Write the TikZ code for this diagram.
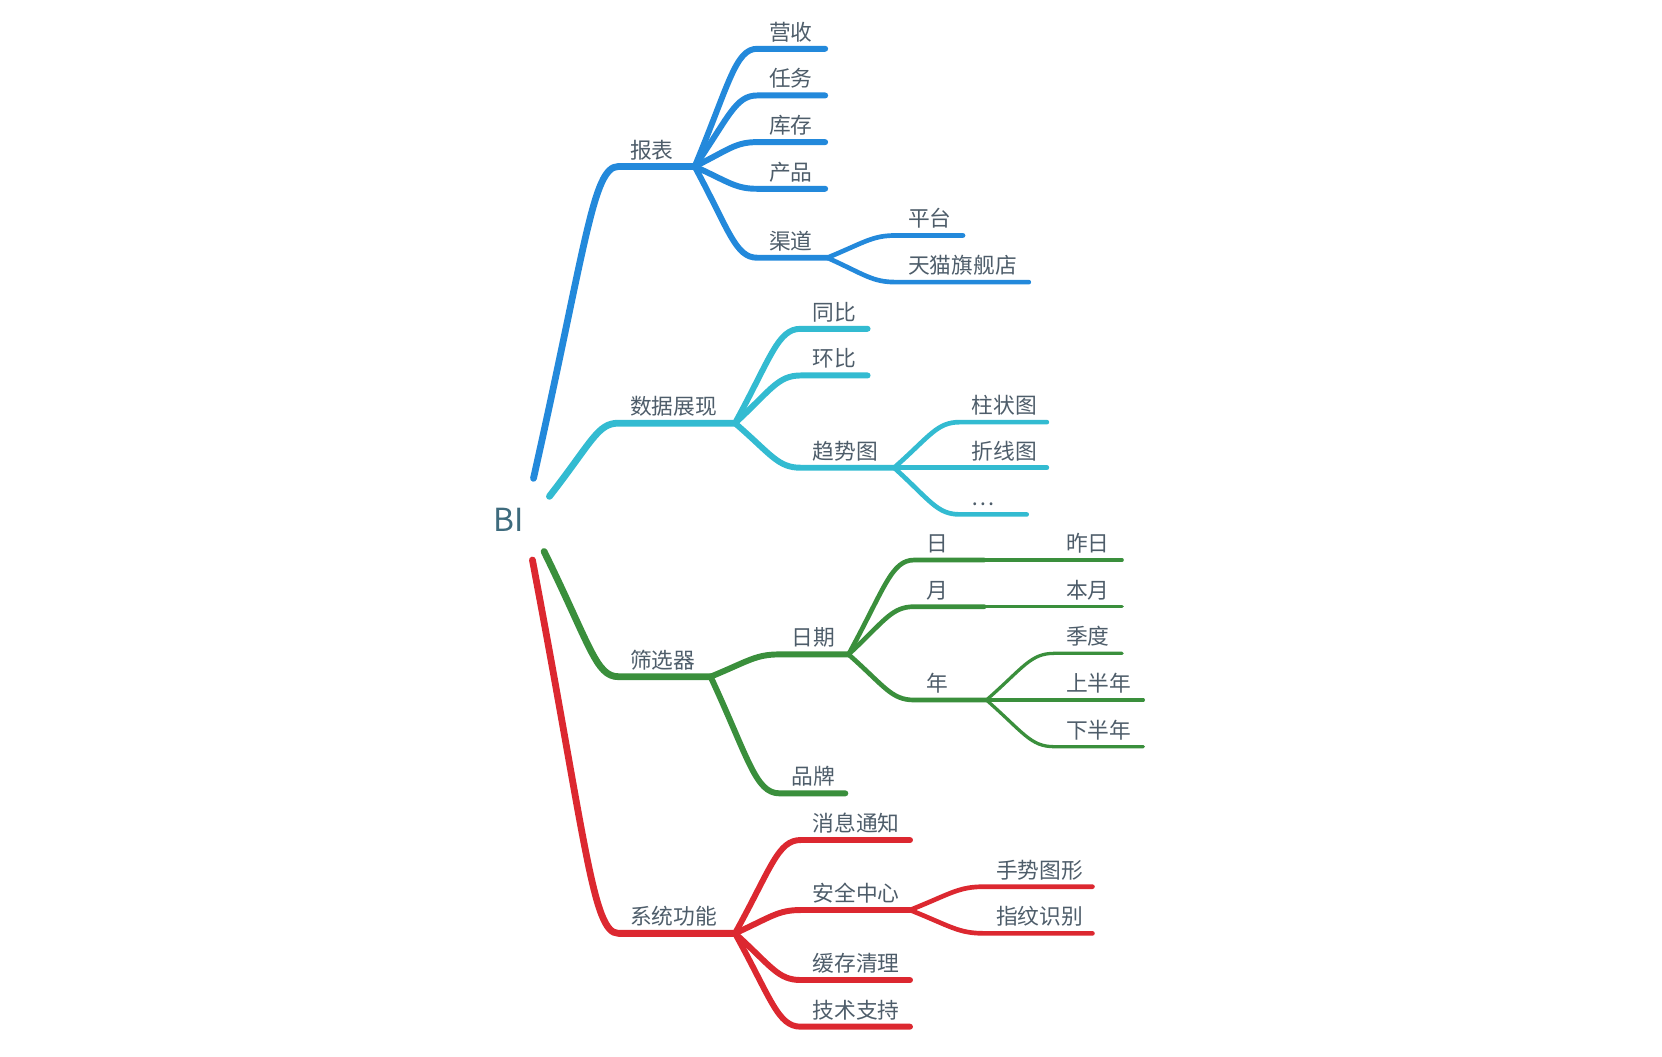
\documentclass[tikz,border=0pt]{standalone}
\usepackage{fontspec}
\setmainfont{Noto Sans CJK SC}
\usetikzlibrary{calc}
\definecolor{cblue}{HTML}{2389DB}
\definecolor{ccyan}{HTML}{33BBD1}
\definecolor{cgreen}{HTML}{3A8F3C}
\definecolor{cred}{HTML}{DC2830}
\definecolor{ctext}{HTML}{4E5D6A}
\definecolor{croot}{HTML}{3E6B7D}
\newcommand\mmtopic[5]{%
  \coordinate (#1L) at (#2,#4);
  \coordinate (#1R) at (#3,#4);
  \node[lab] (#1) at (#2+11,#4-8) {#5};}
\begin{document}
\begin{tikzpicture}[x=1pt,y=-1pt,line cap=round,line join=round,
  lab/.style={inner sep=0pt,anchor=base west,text=ctext,font=\fontsize{20.5}{24}\selectfont},
  w1/.style={line width=6.4pt},
  w2/.style={line width=5.6pt},
  w3/.style={line width=4.4pt},
  w4/.style={line width=3.1pt},
  cb/.style={draw=cblue},
  cc/.style={draw=ccyan},
  cg/.style={draw=cgreen},
  cr/.style={draw=cred},
  br/.style={to path={let \p1=(\tikztostart), \p2=(\tikztotarget) in
     .. controls ({\x1+0.55*(\x2-\x1)},{\y1+0.7*(\y2-\y1)}) and ({\x2-0.35*(\x2-\x1)},{\y2}) .. (\tikztotarget)}},
  brm/.style={to path={let \p1=(\tikztostart), \p2=(\tikztotarget) in
     .. controls ({\x1+0.62*(\x2-\x1)},{\y1+0.75*(\y2-\y1)}) and ({\x2-0.3*(\x2-\x1)},{\y2}) .. (\tikztotarget)}}]
\useasboundingbox (0,0) rectangle (1567,996);

% root
\node[inner sep=0pt,text=croot,font=\fontsize{30}{34}\selectfont] (bi) at (480,490) {BI};
\coordinate (sB) at (503,451);
\coordinate (sC) at (518,468);
\coordinate (sG) at (513,520);
\coordinate (sR) at (502,528);

% topics
\mmtopic{bb}{583}{655}{157}{报表}
\mmtopic{ys}{714}{778}{46}{营收}
\mmtopic{rw}{714}{778}{90}{任务}
\mmtopic{kc}{714}{778}{134}{库存}
\mmtopic{cp}{714}{778}{178}{产品}
\mmtopic{qd}{714}{780}{243}{渠道}
\mmtopic{pt}{845}{908}{222}{平台}
\mmtopic{tm}{845}{970}{266}{天猫旗舰店}

\mmtopic{sj}{583}{693}{399}{数据展现}
\mmtopic{tb}{755}{818}{310}{同比}
\mmtopic{hb}{755}{818}{354}{环比}
\mmtopic{qs}{755}{843}{441}{趋势图}
\mmtopic{zz}{905}{987}{398}{柱状图}
\mmtopic{zx}{905}{987}{441}{折线图}
\mmtopic{el}{905}{968}{485}{…}

\mmtopic{sx}{583}{670}{638}{筛选器}
\mmtopic{rq}{735}{800}{617}{日期}
\mmtopic{pp}{735}{797}{748}{品牌}
\mmtopic{ri}{862}{928}{528}{日}
\mmtopic{yu}{862}{928}{572}{月}
\mmtopic{ni}{862}{930}{660}{年}
\mmtopic{zr}{994}{1058}{528}{昨日}
\mmtopic{by}{994}{1058}{572}{本月}
\mmtopic{jd}{994}{1058}{616}{季度}
\mmtopic{sb}{994}{1078}{660}{上半年}
\mmtopic{xb}{994}{1078}{704}{下半年}

\mmtopic{xt}{583}{693}{880}{系统功能}
\mmtopic{xx}{755}{858}{792}{消息通知}
\mmtopic{aq}{755}{858}{858}{安全中心}
\mmtopic{hc}{755}{858}{924}{缓存清理}
\mmtopic{js}{755}{858}{968}{技术支持}
\mmtopic{ss}{928}{1030}{836}{手势图形}
\mmtopic{zw}{928}{1030}{880}{指纹识别}

% blue
\draw[cb,w1] (sB) to[brm] (bbL) -- (bbR);
\foreach \t in {ys,rw,kc,cp,qd} \draw[cb,w2] (bbR) to[br] (\t L) -- (\t R);
\foreach \t in {pt,tm} \draw[cb,w3] (qdR) to[br] (\t L) -- (\t R);
% cyan
\draw[cc,w1] (sC) to[brm] (sjL) -- (sjR);
\foreach \t in {tb,hb,qs} \draw[cc,w2] (sjR) to[br] (\t L) -- (\t R);
\foreach \t in {zz,zx,el} \draw[cc,w3] (qsR) to[br] (\t L) -- (\t R);
% green
\draw[cg,w1] (sG) to[brm] (sxL) -- (sxR);
\foreach \t in {rq,pp} \draw[cg,w2] (sxR) to[br] (\t L) -- (\t R);
\foreach \t in {ri,yu,ni} \draw[cg,w3] (rqR) to[br] (\t L) -- (\t R);
\draw[cg,w4] (riR) -- (zrL) -- (zrR);
\draw[cg,w4] (yuR) -- (byL) -- (byR);
\foreach \t in {jd,sb,xb} \draw[cg,w4] (niR) to[br] (\t L) -- (\t R);
% red
\draw[cr,w1] (sR) to[brm] (xtL) -- (xtR);
\foreach \t in {xx,aq,hc,js} \draw[cr,w2] (xtR) to[br] (\t L) -- (\t R);
\foreach \t in {ss,zw} \draw[cr,w3] (aqR) to[br] (\t L) -- (\t R);
\end{tikzpicture}
\end{document}
